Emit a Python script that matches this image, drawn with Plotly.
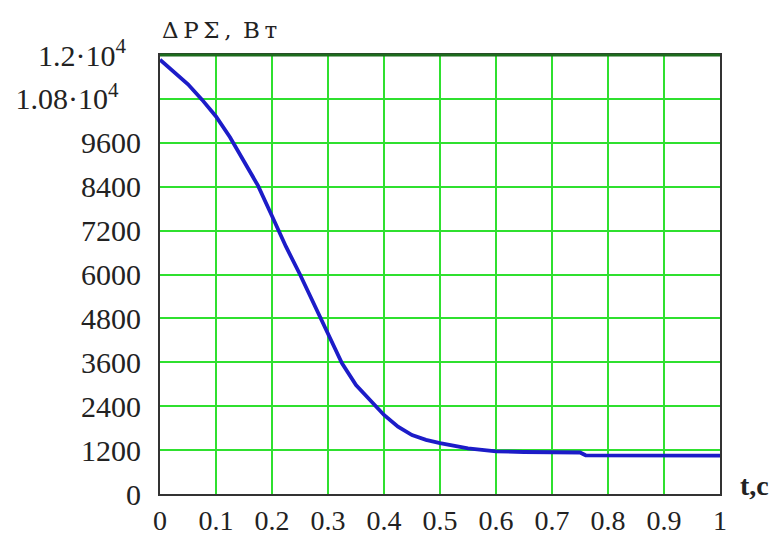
import plotly.graph_objects as go

# Time, s
t_s = [0.0, 0.025, 0.05, 0.075, 0.1, 0.125, 0.15, 0.175, 0.2, 0.225,
       0.25, 0.275, 0.3, 0.325, 0.35, 0.375, 0.4, 0.425, 0.45, 0.475,
       0.5, 0.55, 0.6, 0.65, 0.7, 0.75, 0.76, 0.8, 0.9, 1.0]
# Total losses, W
dP_w = [11870, 11530, 11200, 10780, 10320, 9750, 9100, 8430, 7600, 6760,
        6000, 5170, 4350, 3570, 2980, 2560, 2160, 1840, 1610, 1480,
        1390, 1250, 1165, 1148, 1140, 1135, 1058, 1055, 1052, 1050]

x_ticks = [0, 0.1, 0.2, 0.3, 0.4, 0.5, 0.6, 0.7, 0.8, 0.9, 1.0]
x_labels = ["0", "0.1", "0.2", "0.3", "0.4", "0.5", "0.6", "0.7", "0.8", "0.9", "1"]
y_ticks = [0, 1200, 2400, 3600, 4800, 6000, 7200, 8400, 9600, 10800, 12000]
y_labels = ["0", "1200", "2400", "3600", "4800", "6000", "7200", "8400", "9600",
            "1.08·10<sup>4</sup>\u00a0\u00a0\u00a0",
            "1.2·10<sup>4</sup>\u00a0\u00a0"]

SERIF = "Liberation Serif, Times New Roman, serif"
GRID = "#2fe02f"
TEXT = "#222222"

fig = go.Figure()
fig.add_trace(go.Scatter(
    x=t_s, y=dP_w, mode="lines",
    line=dict(color="#1c1cc8", width=3.8),
    hoverinfo="skip", showlegend=False,
))

axis_common = dict(
    showgrid=True, gridcolor=GRID, gridwidth=2,
    showline=True, linecolor="#333333", linewidth=2, mirror=True,
    ticks="", ticklen=0, zeroline=False, automargin=False,
)

fig.update_layout(
    width=781, height=537,
    margin=dict(l=160, r=61, t=55, b=43),
    paper_bgcolor="white", plot_bgcolor="white",
    font=dict(family=SERIF, size=30, color=TEXT),
    xaxis=dict(range=[0, 1], tickmode="array", tickvals=x_ticks, ticktext=x_labels,
               ticklabelstandoff=0, tickfont=dict(family=SERIF, size=28, color=TEXT),
               **axis_common),
    yaxis=dict(range=[0, 12000], tickmode="array", tickvals=y_ticks, ticktext=y_labels,
               ticklabelstandoff=11, tickfont=dict(family=SERIF, size=30, color=TEXT),
               **axis_common),
    shapes=[dict(type="line", xref="paper", yref="paper", x0=0, x1=1, y0=1, y1=1,
                 line=dict(color="#1d6b1d", width=3))],
    annotations=[
        dict(text="Δ\u2009P\u2009Σ\u2009,\u2002В\u2009т", xref="paper", yref="paper",
             x=0.0, y=1.058, xanchor="left", yanchor="middle", showarrow=False,
             font=dict(family="DejaVu Serif, serif", size=23, color="#222222")),
        dict(text="<b>t,c</b>", xref="paper", yref="paper",
             x=1.032, y=0.02, xanchor="left", yanchor="middle", showarrow=False,
             font=dict(family=SERIF, size=28, color=TEXT)),
    ],
)

fig.write_html("out.html")
